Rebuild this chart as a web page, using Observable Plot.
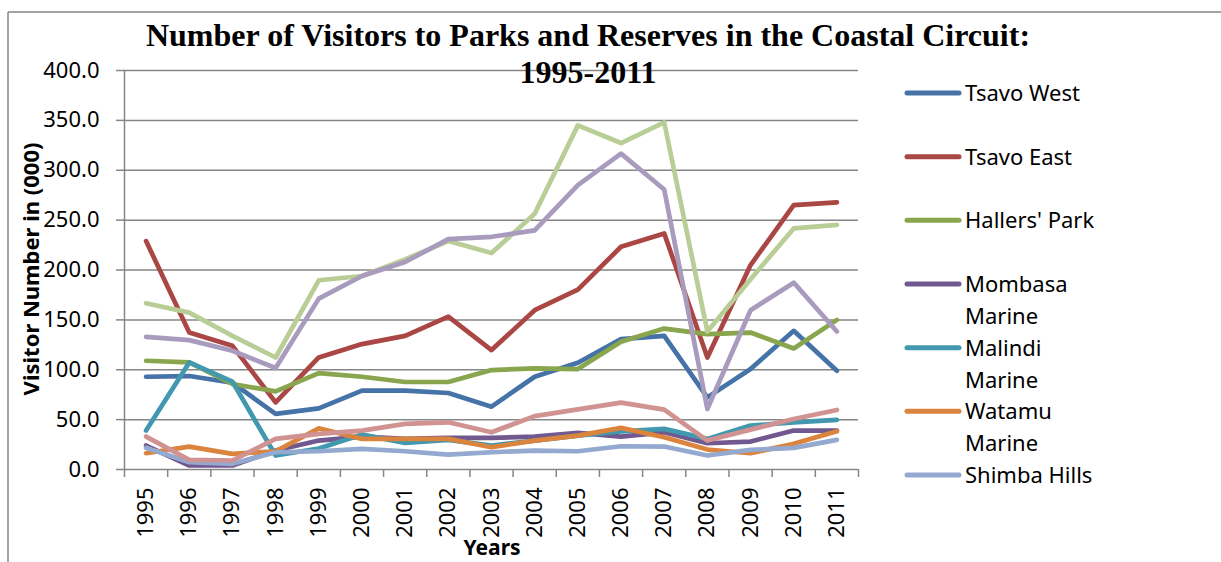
<!DOCTYPE html>
<html><head><meta charset="utf-8">
<script src="https://cdn.jsdelivr.net/npm/d3@7"></script>
<script src="https://cdn.jsdelivr.net/npm/@observablehq/plot@0.6"></script>
<style>
body{margin:0;background:#fff;}
#wrap{position:relative;width:1221px;height:562px;overflow:hidden;font-family:"Noto Sans",sans-serif;}
#wrap svg{position:absolute;left:0;top:0;}
</style></head><body><div id="wrap"></div>
<script>
const titleLines = ["Number of Visitors to Parks and Reserves in the Coastal Circuit:", "1995-2011"];
const yLabel = "Visitor Number in (000)";
const xLabel = "Years";
const years = [1995,1996,1997,1998,1999,2000,2001,2002,2003,2004,2005,2006,2007,2008,2009,2010,2011];
const yTicks = [0,50,100,150,200,250,300,350,400];

const seriesNames = ["Tsavo West","Tsavo East","Hallers' Park","Mombasa Marine","Malindi Marine","Watamu Marine","Shimba Hills","Series 8","Series 9","Series 10"];
const legendCount = 7;
const seriesColors = ["#4572A7","#AA4643","#89A54E","#71588F","#4198AF","#DB843D","#93A9CF","#D19392","#B9CD96","#A99BBD"];

const tsavoWest     = [93,93.7,87,55.7,61.3,79,79,76.7,63,93,107,130.7,134,72.3,100.7,139,99];
const tsavoEast     = [229,137.3,124,67.3,112.3,125.7,134,153.3,119.7,159.7,180.3,223.3,236.7,112.3,205,265,267.7];
const hallersPark   = [109,107.3,85.7,78.3,96.7,93,87.7,87.7,99.7,101.3,100.7,128,141.3,135.7,137.3,121.3,150];
const mombasaMarine = [24,4,4,19,29,33,30.7,31.7,31.7,33,36.7,33,37.3,26.3,28,39,39];
const malindiMarine = [39,107.3,88,14,21,35,26.7,29.7,24,29,34,38.3,40.7,30.7,44,47.3,49.7];
const watamuMarine  = [16.3,23,15.7,18.3,41.3,30.7,30.7,30.7,22.3,29,34,41.7,32.3,20,16.3,25.7,38.3];
const shimbaHills   = [21.7,7.3,5.7,17.3,18.3,20.7,18.3,15,17.3,19,18.3,23.3,23,14,19.7,21.7,29.7];
const series8       = [33,9.7,9,30.7,35.7,39,45.7,47.3,37.3,53.5,60.3,67,60,29,40,50.7,59.7];
const series9       = [166.7,157.3,134,112.3,189.7,194,210.7,229,217,256.3,345,327.3,348,138.3,190.7,241.7,245.3];
const series10      = [133,129.7,119,101.7,171.3,194,208,231,233.3,239.7,285,316.7,280.7,60.7,159.7,187.3,138.3];

const seriesValues = [tsavoWest,tsavoEast,hallersPark,mombasaMarine,malindiMarine,watamuMarine,shimbaHills,series8,series9,series10];
const data = seriesNames.flatMap((name,i)=>years.map((year,j)=>({series:name, year, value:seriesValues[i][j]})));
const xBounds = [...years.map(y=>y-0.5), years[years.length-1]+0.5];

const grey = "#868686";
const chart = Plot.plot({
  width:1221, height:562,
  marginLeft:124, marginRight:363, marginTop:70, marginBottom:93,
  style:{background:"transparent", fontFamily:"'Noto Sans', sans-serif", fontSize:"22px", color:"#000", overflow:"visible"},
  x:{type:"linear", domain:[xBounds[0], xBounds[xBounds.length-1]]},
  y:{domain:[0,400]},
  color:{domain:seriesNames, range:seriesColors},
  marks:[
    Plot.gridY(yTicks,{stroke:grey, strokeOpacity:1, strokeWidth:1.5}),
    Plot.ruleX([xBounds[0]],{stroke:grey, strokeWidth:1.5}),
    Plot.axisY(yTicks,{tickSize:8, tickPadding:17, tickFormat:d3.format(".1f"), stroke:grey, strokeWidth:1.5, fontSize:22, label:null}),
    Plot.axisX(xBounds,{tickSize:8, tickFormat:()=>"", stroke:grey, strokeWidth:1.5, label:null}),
    Plot.axisX(years,{tickSize:0, tickPadding:18, tickRotate:-90, tickFormat:d=>String(d), fontSize:22, label:null}),
    Plot.line(data,{x:"year", y:"value", z:"series", stroke:"series", strokeWidth:4.7})
  ]
});
const wrap = document.getElementById("wrap");
wrap.appendChild(chart);

// overlay: frame, title, axis titles, legend
const ov = d3.select(wrap).append("svg").attr("width",1221).attr("height",562);
ov.append("line").attr("x1",8).attr("x2",8).attr("y1",12).attr("y2",562).attr("stroke",grey).attr("stroke-width",1.5);
ov.append("line").attr("x1",8).attr("x2",1221).attr("y1",12).attr("y2",12).attr("stroke",grey).attr("stroke-width",1.5);

const tg = ov.append("g").attr("font-family","'Liberation Serif', 'Times New Roman', serif").attr("font-weight","bold").attr("font-size",32).attr("text-anchor","middle");
titleLines.forEach((t,i)=>tg.append("text").attr("x",588).attr("y",46+i*37).text(t));

ov.append("text").attr("transform","translate(39,269) rotate(-90)").attr("text-anchor","middle")
  .attr("font-family","'Noto Sans', sans-serif").attr("font-weight","bold").attr("font-size",22).text(yLabel);
ov.append("text").attr("x",492).attr("y",555).attr("text-anchor","middle")
  .attr("font-family","'Noto Sans', sans-serif").attr("font-weight","bold").attr("font-size",21).text(xLabel);

const lg = ov.append("g").attr("font-family","'Noto Sans', sans-serif").attr("font-size",22);
const maxW = 140;
seriesNames.slice(0,legendCount).forEach((name,i)=>{
  const y = 93 + i*63.67;
  lg.append("line").attr("x1",907).attr("x2",959).attr("y1",y).attr("y2",y)
    .attr("stroke",seriesColors[i]).attr("stroke-width",5).attr("stroke-linecap","round");
  const t = lg.append("text").attr("x",965).attr("y",y+8).text(name);
  if (t.node().getComputedTextLength() > maxW && name.includes(" ")) {
    const parts = name.split(" ");
    t.text(parts[0]);
    lg.append("text").attr("x",965).attr("y",y+8+32).text(parts.slice(1).join(" "));
  }
});
</script></body></html>
